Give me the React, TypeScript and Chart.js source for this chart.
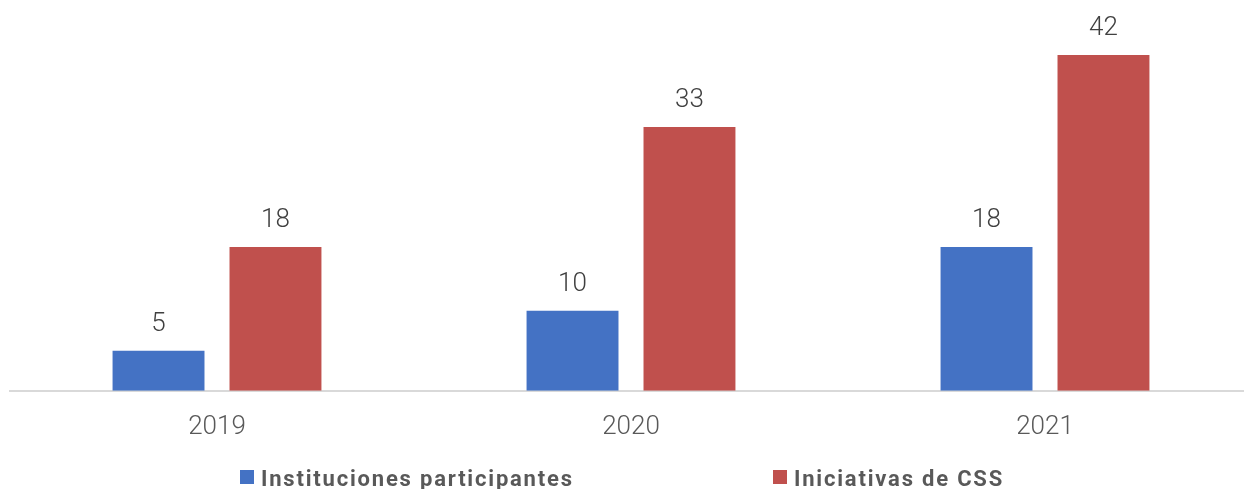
import React, { useEffect, useRef } from "react";
import { Chart, registerables } from "chart.js";

Chart.register(...registerables);

const categories = ["2019", "2020", "2021"];
const seriesNames = ["Instituciones participantes", "Iniciativas de CSS"];
const instituciones = [5, 10, 18];
const iniciativas = [18, 33, 42];
const colors = ["#4472C4", "#C0504D"];

const valueLabels = {
  id: "valueLabels",
  afterDatasetsDraw(chart: any) {
    const ctx = chart.ctx;
    ctx.save();
    ctx.font = "300 26px Roboto";
    ctx.fillStyle = "#404040";
    ctx.textAlign = "center";
    ctx.textBaseline = "alphabetic";
    chart.data.datasets.forEach((ds: any, i: number) => {
      const meta = chart.getDatasetMeta(i);
      meta.data.forEach((bar: any, j: number) => {
        ctx.fillText(String(ds.data[j]), bar.x, bar.y - 20);
      });
    });
    ctx.restore();
  },
};

const customLegend = {
  id: "customLegend",
  afterDraw(chart: any) {
    const ctx = chart.ctx;
    ctx.save();
    ctx.font = "bold 22px Roboto";
    (ctx as any).letterSpacing = "1.8px";
    ctx.textBaseline = "alphabetic";
    const starts = [240, 773];
    chart.data.datasets.forEach((ds: any, i: number) => {
      const x = starts[i];
      ctx.fillStyle = ds.backgroundColor;
      ctx.fillRect(x, 470, 14, 14);
      ctx.fillStyle = "#595959";
      ctx.textAlign = "left";
      ctx.fillText(ds.label, x + 21, 486);
    });
    ctx.restore();
  },
};

export default function App() {
  const ref = useRef<HTMLCanvasElement>(null);
  useEffect(() => {
    document.body.style.margin = "0";
    document.body.style.overflow = "hidden";
    const chart = new Chart(ref.current!, {
      type: "bar",
      data: {
        labels: categories,
        datasets: [
          { label: seriesNames[0], data: instituciones, backgroundColor: colors[0] },
          { label: seriesNames[1], data: iniciativas, backgroundColor: colors[1] },
        ],
      },
      options: {
        animation: false,
        responsive: true,
        maintainAspectRatio: false,
        layout: { padding: { left: 10, right: 10, top: 7, bottom: 33 } },
        datasets: {
          bar: { categoryPercentage: 0.565, barPercentage: 0.786 },
        },
        plugins: {
          legend: { display: false },
          tooltip: { enabled: false },
        },
        scales: {
          x: {
            grid: { display: false },
            border: { color: "#D9D9D9", width: 2 },
            ticks: {
              color: "#595959",
              font: { family: "Roboto", size: 26, weight: "300" },
              padding: 13,
            },
          },
          y: {
            display: false,
            min: 0,
            max: 48,
          },
        },
      },
      plugins: [valueLabels, customLegend],
    });
    return () => chart.destroy();
  }, []);
  return (
    <div style={{ position: "absolute", left: 0, top: 0, width: 1262, height: 489 }}>
      <canvas ref={ref} />
    </div>
  );
}
